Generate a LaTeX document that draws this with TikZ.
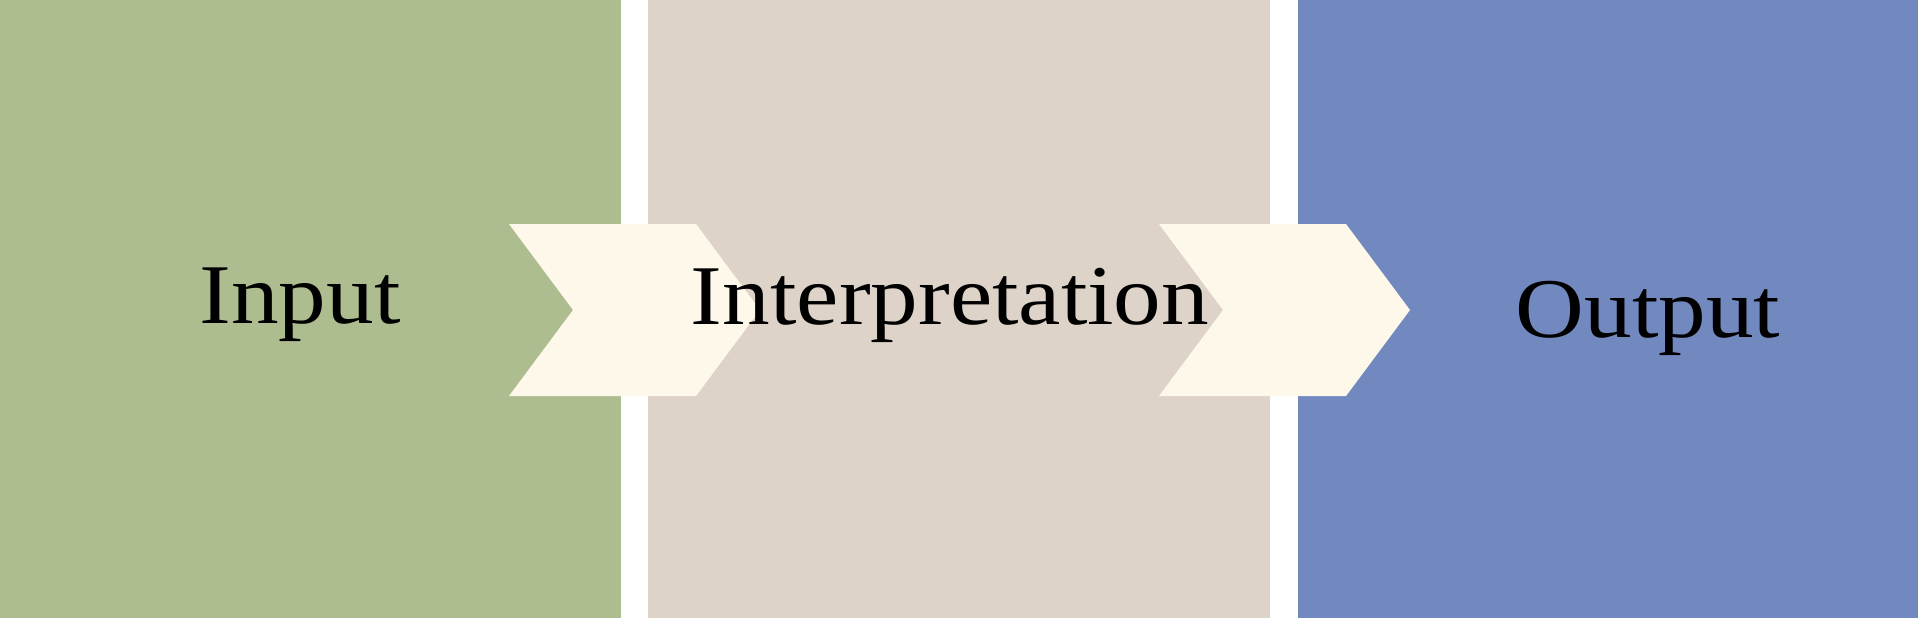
\documentclass[tikz,border=0pt]{standalone}
\usepackage{fontspec}
\setmainfont[FakeStretch=1.12]{Liberation Serif}
\definecolor{ingreen}{RGB}{173,189,143}
\definecolor{midbeige}{RGB}{221,211,200}
\definecolor{outblue}{RGB}{114,137,192}
\definecolor{chevfill}{RGB}{254,248,235}
\begin{document}
\begin{tikzpicture}[x=1pt,y=-1pt,
  panel/.style={fill=#1,draw=none},
  chev/.style={fill=chevfill,draw=none},
  label/.style={inner sep=0pt,anchor=base,text=black,font=\fontsize{85}{100}\selectfont}]
\useasboundingbox (0,0) rectangle (1920,618);
\fill[white] (0,0) rectangle (1920,618);
% panels
\path[panel=ingreen] (0,0) rectangle (621,618);
\path[panel=midbeige] (648,0) rectangle (1270,618);
\path[panel=outblue] (1298,0) rectangle (1918,618);
% chevrons
\path[chev] (509,224) -- (696,224) -- (760,310) -- (696,396) -- (509,396) -- (573,310) -- cycle;
\path[chev] (1159,224) -- (1346,224) -- (1410,310) -- (1346,396) -- (1159,396) -- (1223,310) -- cycle;
% labels
\node[label] (in) at (300,323) {Input};
\node[label] (interp) at (950,324) {Interpretation};
\node[label] (out) at (1648,337) {Output};
\end{tikzpicture}
\end{document}
